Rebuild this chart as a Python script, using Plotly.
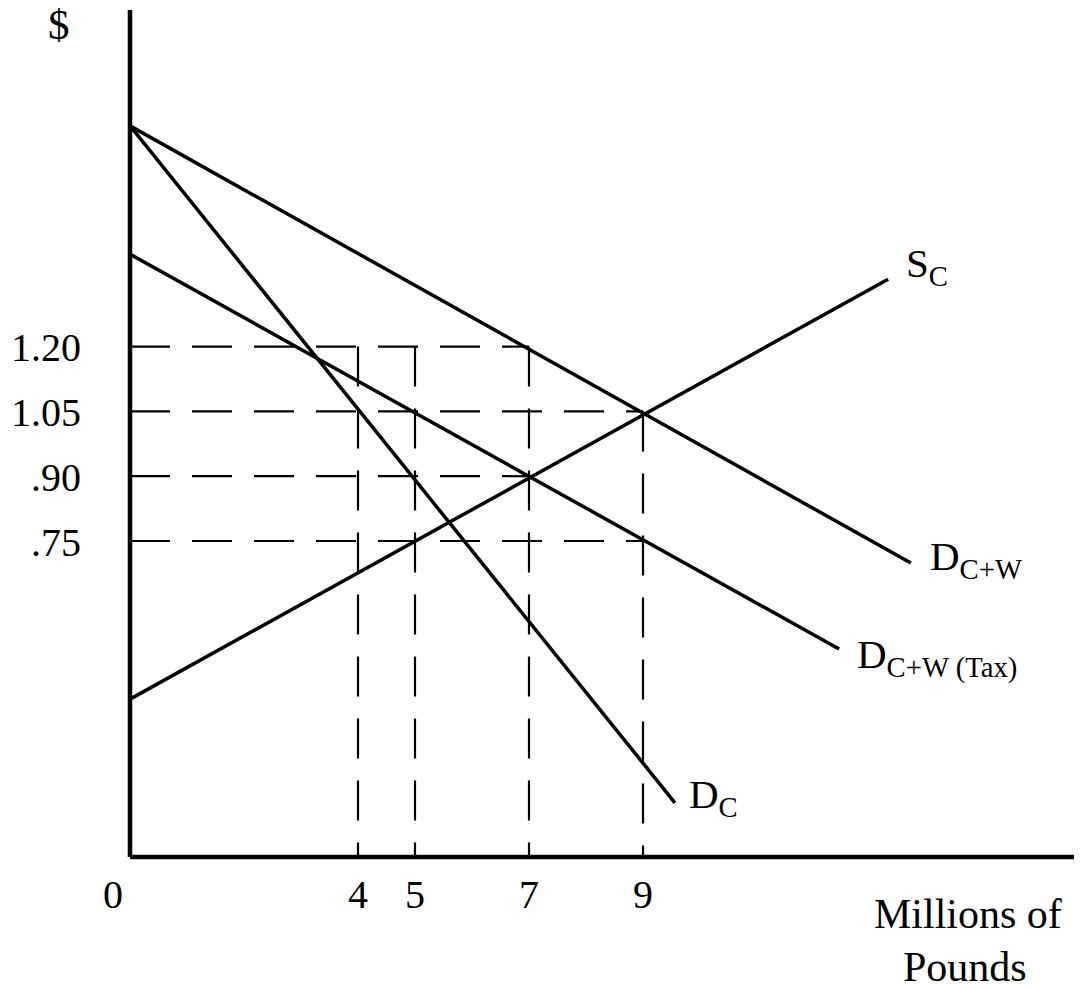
import plotly.graph_objects as go

# ---------------- data ----------------
price_ticks = [1.20, 1.05, 0.90, 0.75]
price_labels = ["1.20", "1.05", ".90", ".75"]
qty_ticks = [0, 4, 5, 7, 9]
qty_labels = ["0", "4", "5", "7", "9"]

# dashed guides
guide_h_price = [1.20, 1.05, 0.90, 0.75]
guide_h_qty_end = [7, 9, 7, 9]
guide_v_qty = [4, 5, 7, 9]
guide_v_price_top = [1.20, 1.20, 1.20, 1.05]

# curves (quantity, price) endpoints
sc_q = [0, 13.30]
sc_p = [0.384, 1.356]
dcw_q = [0, 13.70]
dcw_p = [1.711, 0.699]
dtax_q = [0, 12.44]
dtax_p = [1.414, 0.500]
dc_q = [0, 9.56]
dc_p = [1.711, 0.144]

# axis extents
axis_q_max = 16.67
axis_p_min = 0.0185
axis_p_max = 1.979

# ---------------- figure ----------------
FONT = "Liberation Serif"
OFF = 8            # page body margin
W, H = 1074, 981
PX_Q, Q0 = 57.0, 130.0      # px per unit quantity, page px of q=0
PX_P, P0 = 432.0, 865.0     # px per dollar, page px of p=0

fig = go.Figure()

# dashed guide lines
for p, qe in zip(guide_h_price, guide_h_qty_end):
    fig.add_trace(go.Scatter(x=[0, qe], y=[p, p], mode="lines",
                             line=dict(color="black", width=2.2, dash="40px,22px"),
                             hoverinfo="skip", showlegend=False))
for q, pt in zip(guide_v_qty, guide_v_price_top):
    fig.add_trace(go.Scatter(x=[q, q], y=[pt, axis_p_min], mode="lines",
                             line=dict(color="black", width=2.2, dash="40px,22px"),
                             hoverinfo="skip", showlegend=False))

# curves
curves = [
    (sc_q, sc_p, "S<sub>C</sub>", 16, 13),
    (dcw_q, dcw_p, "D<sub>C+W</sub>", 17, 4),
    (dtax_q, dtax_p, "D<sub>C+W (Tax)</sub>", 16, -8),
    (dc_q, dc_p, "D<sub>C</sub>", 12, 6),
]
for q, p, label, xs, ys in curves:
    fig.add_trace(go.Scatter(x=q, y=p, mode="lines",
                             line=dict(color="black", width=3.5),
                             hoverinfo="skip", showlegend=False))
    fig.add_annotation(x=q[-1], y=p[-1], xref="x", yref="y", text=label,
                       showarrow=False, xanchor="left", yanchor="middle",
                       xshift=xs, yshift=ys,
                       font=dict(family=FONT, size=41, color="black"))

# axes
fig.add_trace(go.Scatter(x=[0, 0], y=[axis_p_max, axis_p_min], mode="lines",
                         line=dict(color="black", width=4.5),
                         hoverinfo="skip", showlegend=False))
fig.add_trace(go.Scatter(x=[0, axis_q_max], y=[axis_p_min, axis_p_min], mode="lines",
                         line=dict(color="black", width=4.5),
                         hoverinfo="skip", showlegend=False))

# tick labels
for p, lab in zip(price_ticks, price_labels):
    fig.add_annotation(x=0, y=p, xref="x", yref="y", text=lab, showarrow=False,
                       xanchor="right", yanchor="middle", xshift=-47, yshift=-1,
                       font=dict(family=FONT, size=40, color="black"))
for q, lab in zip(qty_ticks, qty_labels):
    fig.add_annotation(x=q, y=axis_p_min, xref="x", yref="y", text=lab, showarrow=False,
                       xanchor="center", yanchor="middle",
                       xshift=(-17 if q == 0 else 0), yshift=-37,
                       font=dict(family=FONT, size=40, color="black"))

# axis titles
fig.add_annotation(x=0, y=axis_p_max, xref="x", yref="y", text="$", showarrow=False,
                   xanchor="center", yanchor="middle", xshift=-71, yshift=-14,
                   font=dict(family=FONT, size=43, color="black"))
fig.add_annotation(x=axis_q_max, y=axis_p_min, xref="x", yref="y", text="Millions of",
                   showarrow=False, xanchor="right", yanchor="middle",
                   xshift=-16, yshift=-57,
                   font=dict(family=FONT, size=42, color="black"))
fig.add_annotation(x=axis_q_max, y=axis_p_min, xref="x", yref="y", text="Pounds",
                   showarrow=False, xanchor="right", yanchor="middle",
                   xshift=-51, yshift=-110,
                   font=dict(family=FONT, size=42, color="black"))

fig.update_layout(
    width=W, height=H,
    margin=dict(l=0, r=0, t=0, b=0, pad=0),
    paper_bgcolor="white", plot_bgcolor="white",
    xaxis=dict(visible=False, fixedrange=True,
               range=[(OFF - Q0) / PX_Q, (OFF + W - Q0) / PX_Q]),
    yaxis=dict(visible=False, fixedrange=True,
               range=[(P0 - (OFF + H)) / PX_P, (P0 - OFF) / PX_P]),
)

fig.write_html("out.html")
